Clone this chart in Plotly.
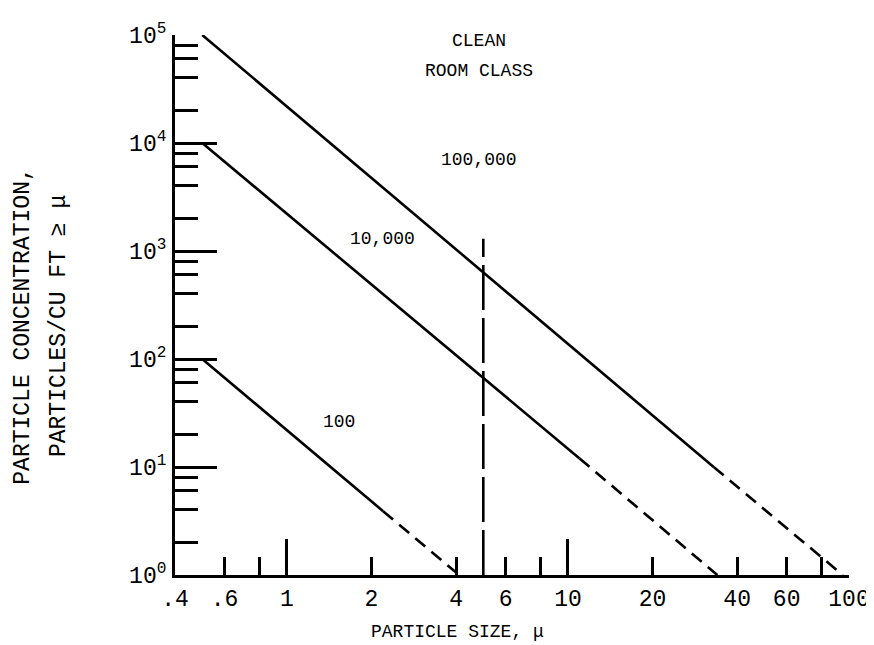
import plotly.graph_objects as go

# ---- data ----
classes = ["100", "10,000", "100,000"]
start_size = [0.5, 0.5, 0.5]
start_conc = [100, 10000, 100000]
solid_end_size = [2.2, 11, 33]
solid_end_conc = [3.9, 12, 10]
end_size = [4.1, 34, 95]
end_conc = [1, 1, 1]

marker_size = [5, 5]
marker_conc = [1, 1300]

x_tickvals = [0.4, 0.6, 1, 2, 4, 6, 10, 20, 40, 60, 100]
x_ticktext = [".4", ".6", "1", "2", "4", "6", "10", "20", "40", "60", "100"]
x_minor = [0.8, 8, 80]
x_long = [1, 10, 100]
y_tickvals = [1, 10, 100, 1000, 10000, 100000]
y_ticktext = ["10<sup>0</sup>", "10<sup>1</sup>", "10<sup>2</sup>",
              "10<sup>3</sup>", "10<sup>4</sup>", "10<sup>5</sup>"]
y_minor = [m * 10 ** e for e in range(5) for m in (2, 4, 6, 8)]

FONT = "Liberation Mono"
INK = "black"

# plot-area geometry (pixels) used to place free text
L, R, T, B, W, H = 167, 21, 27, 78, 874, 645
PW, PH = W - L - R, H - T - B


def px(xpix):
    return (xpix - L) / PW


def py(ypix):
    return (H - B - ypix) / PH


fig = go.Figure()
for i in range(len(classes)):
    fig.add_trace(go.Scatter(
        x=[start_size[i], solid_end_size[i]], y=[start_conc[i], solid_end_conc[i]],
        mode="lines", line=dict(color=INK, width=2.6), showlegend=False, hoverinfo="skip"))
    fig.add_trace(go.Scatter(
        x=[solid_end_size[i], end_size[i]], y=[solid_end_conc[i], end_conc[i]],
        mode="lines", line=dict(color=INK, width=2.6, dash="13px,8px"),
        showlegend=False, hoverinfo="skip"))

fig.add_trace(go.Scatter(x=marker_size, y=marker_conc, mode="lines",
                         line=dict(color=INK, width=2.6, dash="45px,8px"),
                         showlegend=False, hoverinfo="skip"))
# invisible trace to activate second x axis (long ticks at decades)
fig.add_trace(go.Scatter(x=[1], y=[1], xaxis="x2", mode="markers",
                         marker=dict(opacity=0), showlegend=False, hoverinfo="skip"))

xr = [-0.39794, 2.0]
fig.update_layout(
    width=W, height=H,
    margin=dict(l=L, r=R, t=T, b=B),
    paper_bgcolor="white", plot_bgcolor="white",
    font=dict(family=FONT, color=INK, size=18),
    xaxis=dict(type="log", range=xr, showgrid=False, zeroline=False,
               showline=True, linecolor=INK, linewidth=3,
               tickmode="array", tickvals=x_tickvals, ticktext=x_ticktext,
               ticks="inside", ticklen=18, tickwidth=2.5, tickcolor=INK,
               tickfont=dict(size=23, family=FONT),
               minor=dict(tickmode="array", tickvals=x_minor, ticks="inside",
                          ticklen=18, tickwidth=2.5, tickcolor=INK, showgrid=False)),
    xaxis2=dict(type="log", range=xr, overlaying="x", anchor="y", side="bottom",
                showgrid=False, zeroline=False, showline=False,
                tickmode="array", tickvals=x_long, showticklabels=False,
                ticks="inside", ticklen=36, tickwidth=2.5, tickcolor=INK),
    yaxis=dict(type="log", range=[0, 5], showgrid=False, zeroline=False,
               showline=True, linecolor=INK, linewidth=3,
               tickmode="array", tickvals=y_tickvals, ticktext=y_ticktext,
               ticks="inside", ticklen=42, tickwidth=2.5, tickcolor=INK,
               tickfont=dict(size=23, family=FONT), ticklabelstandoff=1,
               minor=dict(tickmode="array", tickvals=y_minor, ticks="inside",
                          ticklen=23, tickwidth=2.5, tickcolor=INK, showgrid=False)),
)

annots = [
    ("CLEAN", 476, 33, 18, 0),
    ("ROOM CLASS", 476, 63, 18, 0),
    ("100,000", 476, 152, 18, 0),
    ("10,000", 378, 231, 18, 0),
    ("100", 334, 414, 18, 0),
    ("PARTICLE SIZE, \u03bc", 455, 624, 18, 0),
    ("PARTICLE CONCENTRATION,", 12, 318, 23, -90),
    ("PARTICLES/CU FT \u2265 \u03bc", 49, 318, 23, -90),
]
for txt, xpix, ypix, fs, ang in annots:
    fig.add_annotation(text=txt, x=px(xpix), y=py(ypix), xref="paper", yref="paper",
                       xanchor="center", yanchor="middle", textangle=ang,
                       showarrow=False, font=dict(size=fs, family=FONT, color=INK))

fig.write_html("out.html")
